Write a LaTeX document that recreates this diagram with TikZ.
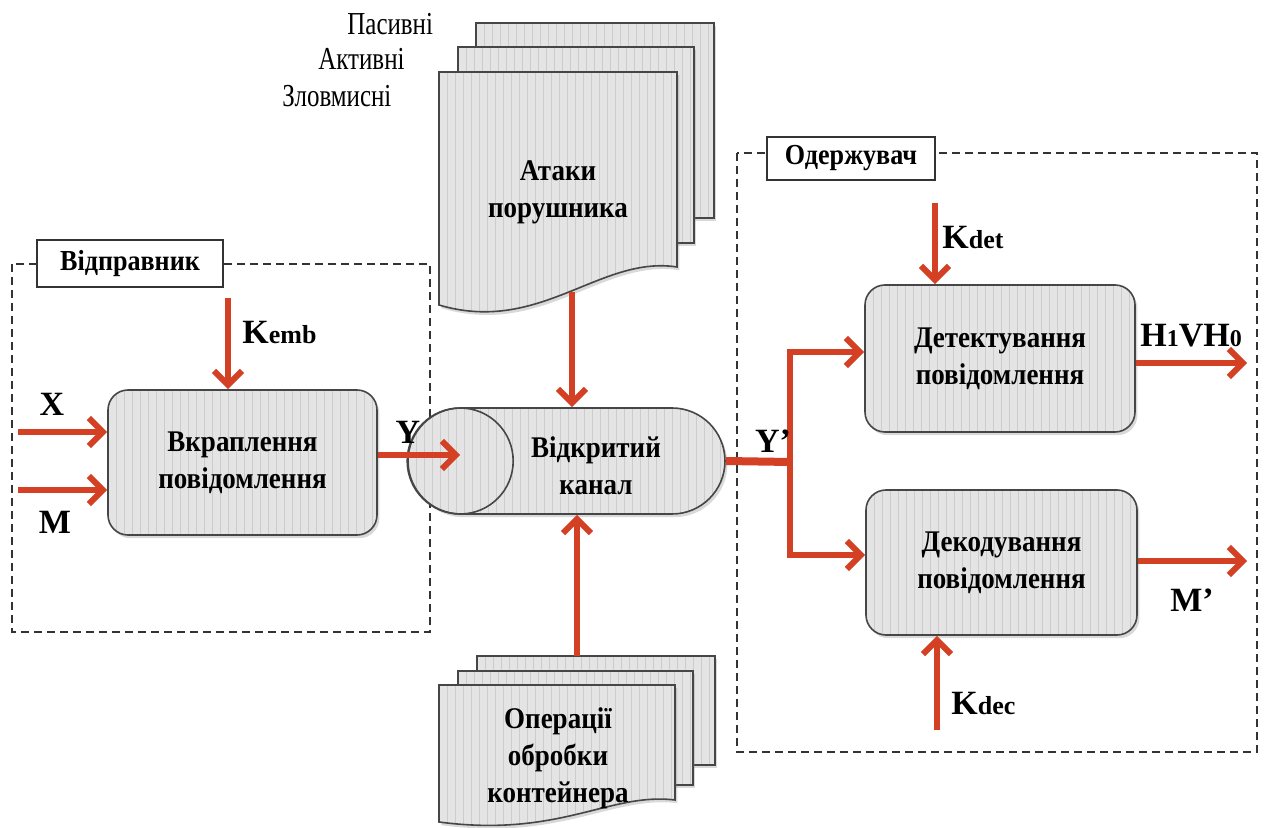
\documentclass[tikz,border=0pt]{standalone}
\usepackage{fontspec}
\setmainfont{Liberation Serif}
\newfontfamily\narrowserif{Liberation Serif}[FakeStretch=0.78]
\newfontfamily\condserif{Liberation Serif}[FakeStretch=0.9]
\usetikzlibrary{arrows.meta,shapes.misc,shadows}
\definecolor{arrred}{RGB}{212,64,36}
\definecolor{boxfill}{RGB}{228,228,228}
\definecolor{stripe}{RGB}{204,204,204}
\definecolor{edge}{RGB}{70,70,70}

\begin{document}
\begin{tikzpicture}[x=0.5pt,y=-0.5pt,
  stripes/.style={fill=boxfill,
    path picture={\foreach \k in {0,...,90}{
      \draw[stripe,line width=0.5pt]
        ([xshift=\k*4pt]path picture bounding box.south west) --
        ([xshift=\k*4pt]path picture bounding box.north west);}}},
  soft/.style={drop shadow={opacity=0.3,shadow xshift=1.2pt,shadow yshift=-1.6pt}},
  block/.style={rounded corners=10pt, draw=edge, line width=0.8pt, stripes, soft,
    align=center, inner sep=0pt,
    font=\condserif\bfseries\fontsize{15}{18.5}\selectfont},
  docpage/.style={draw=edge, line width=0.8pt, stripes, soft},
  doctext/.style={align=center, font=\condserif\bfseries\fontsize{15}{18.5}\selectfont},
  tag/.style={draw=black!80, fill=white, line width=0.6pt, inner sep=0pt,
    font=\condserif\bfseries\fontsize{14.5}{16}\selectfont},
  group/.style={draw=black!80, line width=0.6pt, dash pattern=on 4pt off 2.5pt},
  sym/.style={font=\bfseries\fontsize{17}{17}\selectfont, inner sep=0pt},
  kind/.style={font=\narrowserif\fontsize{16}{16}\selectfont, inner sep=0pt, anchor=base west},
  arr/.style={draw=arrred, line width=3pt,
    -{Straight Barb[length=7pt,width=14pt,line width=3pt]}}
]
\useasboundingbox (0,0) rectangle (1265,828);

% ---------- sender and receiver groups ----------
\draw[group] (12,264) rectangle (430,632);
\node[tag, minimum width=93pt, minimum height=23.5pt] (sender) at (130,263.5) {Відправник};

\draw[group] (737,153) rectangle (1257,752);
\node[tag, minimum width=84pt, minimum height=21.5pt] (receiver) at (851,158.5) {Одержувач};

% ---------- attacks stack ----------
\path[docpage] (476,23) rectangle (714,218);
\path[docpage] (458,47) rectangle (694,243);
\path[docpage] (439,72) -- (677,72) -- (677,267)
   .. controls (600,255) and (540,335) .. (439,305) -- cycle;
\node[doctext] (attacks) at (558,192) {Атаки\\порушника};
\coordinate (atkbot) at (572,292);

\node[kind] (passive) at (347,35) {Пасивні};
\node[kind] (active) at (318,70) {Активні};
\node[kind] (malicious) at (282,107) {Зловмисні};

% ---------- container operations stack ----------
\path[docpage] (477,656) rectangle (715,765);
\path[docpage] (458,671) rectangle (693,785);
\path[docpage] (439,685) -- (675,685) -- (675,800)
   .. controls (610,792) and (560,838) .. (439,822) -- cycle;
\node[doctext] (ops) at (558,758) {Операції\\обробки\\контейнера};
\coordinate (opstop) at (577,656);

% ---------- open channel ----------
\node[rounded rectangle, draw=edge, line width=0.8pt, stripes, soft,
      minimum width=158.5pt, minimum height=53pt, inner sep=0pt] (chan) at (566.5,461) {};
\draw[edge, line width=0.8pt] (chan.west) ++(53,0) circle [radius=26.5pt];
\node[doctext] (chantext) at (596,466) {Відкритий\\канал};

% ---------- processing blocks ----------
\node[block, minimum width=134.5pt, minimum height=72.5pt] (embed) at (242.5,462.5)
  {Вкраплення\\повідомлення};
\node[block, minimum width=135pt, minimum height=73.5pt] (detect) at (1000,358.5)
  {Детектування\\повідомлення};
\node[block, minimum width=135.5pt, minimum height=72.5pt] (decode) at (1001.5,562.5)
  {Декодування\\повідомлення};

% ---------- free ends ----------
\coordinate (kemb) at (228,298);
\coordinate (xin) at (18,432);
\coordinate (min) at (18,490);
\coordinate (yend) at (460,455);
\coordinate (split) at (790,462);
\coordinate (kdet) at (935,203);
\coordinate (kdec) at (937,730);
\coordinate (hout) at (1247,363);
\coordinate (mout) at (1247,561);

% ---------- connectors ----------
\draw[arr] (kemb) -- (kemb |- embed.north);
\draw[arr] (xin) -- (xin -| embed.west);
\draw[arr] (min) -- (min -| embed.west);
\draw[arr] (embed.east |- yend) -- (yend);
\draw[arr] (atkbot) -- (atkbot |- chan.north);
\draw[arr] (opstop) -- (opstop |- chan.south);
\draw[draw=arrred, line width=4pt] (chan.east) -- (split);
\draw[arr] (split) |- ([yshift=3.25pt]detect.west);
\draw[arr] (split) |- ([yshift=3.75pt]decode.west);
\draw[arr] (kdet) -- (kdet |- detect.north);
\draw[arr] (kdec) -- (kdec |- decode.south);
\draw[arr] (detect.east |- hout) -- (hout);
\draw[arr] (decode.east |- mout) -- (mout);

% ---------- signal labels ----------
\node[sym] (lx) at (52,404) {X};
\node[sym] (lm) at (55,522) {M};
\node[sym] (ly) at (408,432) {Y};
\node[sym] (lyp) at (773,441) {Y’};
\node[sym, anchor=west] (lkemb) at (242,332) {K{\fontsize{13}{13}\selectfont emb}};
\node[sym, anchor=west] (lkdet) at (942,237) {K{\fontsize{13}{13}\selectfont det}};
\node[sym, anchor=west] (lkdec) at (951,703) {K{\fontsize{13}{13}\selectfont dec}};
\node[sym, anchor=west] (lh) at (1140,336) {H{\fontsize{12}{12}\selectfont 1}VH{\fontsize{12}{12}\selectfont 0}};
\node[sym] (lmp) at (1192,600) {M’};
\end{tikzpicture}
\end{document}
